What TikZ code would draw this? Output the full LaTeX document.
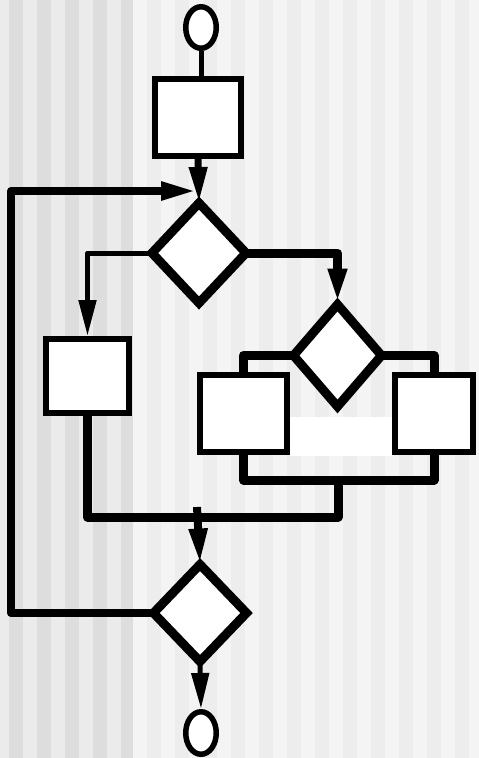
\documentclass[tikz,border=0pt]{standalone}
\usepackage{tikz}
\usetikzlibrary{shapes.geometric,arrows.meta}

\definecolor{stripelight}{HTML}{EBEBEB}
\definecolor{stripedark}{HTML}{DDDDDD}
\definecolor{stripepale}{HTML}{F4F4F4}
\definecolor{stripesoft}{HTML}{EDEDED}

\begin{document}
\begin{tikzpicture}[
    x=1pt, y=-1pt,
    terminal/.style={ellipse, draw, fill=white, line width=5.5pt, inner sep=0pt, minimum width=30.5pt, minimum height=41.5pt},
    process/.style={rectangle, draw, fill=white, line width=6pt, inner sep=0pt},
    decision/.style={diamond, draw, fill=white, line width=9pt, inner sep=0pt, outer sep=0pt, minimum width=94pt, minimum height=100pt},
    thinflow/.style={line width=5pt, line join=round},
    thickflow/.style={line width=9pt, line join=round},
    arrow/.style={-{Triangle[length=36pt, width=17pt]}}
]

% Striped background
\fill[stripelight] (0,0) rectangle (133,758);
\foreach \x in {9,37,...,121} \fill[stripedark] (\x,0) rectangle ({min(\x+14,133)},758);
\fill[stripepale] (133,0) rectangle (479,758);
\foreach \x in {147,175,...,455} \fill[stripesoft] (\x,0) rectangle (\x+14,758);
\useasboundingbox (0,0) rectangle (479,758);

% White patch between the two lower boxes
\fill[white] (290,417) rectangle (392,456);

% Start, body and end of the loop
\node[terminal] (start) at (201,27.5) {};
\node[process, minimum width=86pt, minimum height=77pt] (init) at (198,117.5) {};
\node[decision] (test) at (199,253) {};
\node[process, minimum width=83pt, minimum height=74pt] (left) at (87.5,376) {};
\node[decision, minimum width=88pt, minimum height=102pt] (inner) at (337.5,355.5) {};
\node[process, minimum width=87pt, minimum height=77pt] (innerleft) at (243.5,413.5) {};
\node[process, minimum width=78pt, minimum height=77pt] (innerright) at (434,413.5) {};
\node[decision, minimum width=93pt, minimum height=97pt] (until) at (200,613) {};
\node[terminal, minimum height=42.5pt] (stop) at (201,733) {};

% Junction points
\coordinate (entry) at (197,191);
\coordinate (back) at (11,191);
\coordinate (join) at (338,480);
\coordinate (merge) at (338,517);
\coordinate (stub) at (197,507);

% Connectors
\draw[thinflow] (start.south) -- (start.south |- init.north);
\draw[thickflow, line width=7pt, arrow] (init.south) -- (test.north);
\draw[thickflow, line width=8pt, arrow] (until.west) -| (back) -- (entry);
\draw[thinflow, arrow] (test.west) -| (left.north);
\draw[thickflow, arrow] (test.east) -| (inner.north);
\draw[thickflow] (inner.west) -| (innerleft.north);
\draw[thickflow] (inner.east) -| (innerright.north);
\draw[thickflow] (innerleft.south) |- (join) -| (innerright.south);
\draw[thickflow] (left.south) |- (merge) -- (join);
\draw[thickflow, line width=8pt, arrow] (stub) -- (until.north);
\draw[thinflow, arrow] (until.south) -- (stop.north);

\end{tikzpicture}
\end{document}
